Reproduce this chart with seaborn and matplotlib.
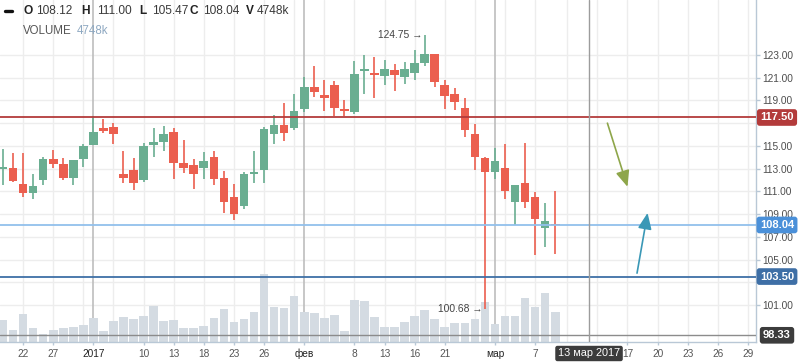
import matplotlib
matplotlib.use('Agg')
import matplotlib.pyplot as plt
import matplotlib.transforms as mtransforms
from matplotlib.lines import Line2D
import numpy as np
import pandas as pd
import seaborn as sns

# ---------------- data ----------------
dates = ['20.12', '21.12', '22.12', '23.12', '26.12', '27.12', '28.12', '29.12', '30.12',
         '03.01', '04.01', '05.01', '06.01', '09.01', '10.01', '11.01', '12.01', '13.01',
         '16.01', '17.01', '18.01', '19.01', '20.01', '23.01', '24.01', '25.01', '26.01',
         '27.01', '30.01', '31.01', '01.02', '02.02', '03.02', '06.02', '07.02', '08.02',
         '09.02', '10.02', '13.02', '14.02', '15.02', '16.02', '17.02', '20.02', '21.02',
         '22.02', '24.02', '27.02', '28.02', '01.03', '02.03', '03.03', '06.03', '07.03',
         '09.03', '10.03']
opens = [113.00, 113.05, 111.64, 110.88, 112.00, 113.85, 113.40, 112.17, 113.85, 115.10,
         116.57, 116.66, 112.52, 112.88, 112.00, 115.10, 115.34, 116.22, 113.49, 113.32,
         113.05, 114.02, 112.17, 110.50, 109.71, 112.52, 112.88, 116.05, 116.84, 116.57,
         118.25, 120.18, 119.48, 120.36, 118.25, 117.98, 121.59, 121.42, 121.15, 121.68,
         121.06, 121.42, 122.30, 123.09, 120.36, 119.57, 118.33, 116.05, 113.93, 112.70,
         113.05, 110.06, 111.73, 110.50, 107.77, 108.12]
highs = [114.73, 114.40, 114.40, 112.52, 114.02, 114.64, 113.93, 113.80, 115.17, 117.63,
         117.37, 117.00, 114.55, 113.93, 115.25, 116.57, 116.75, 116.57, 115.52, 113.85,
         114.46, 114.55, 112.79, 111.64, 112.70, 114.55, 116.66, 117.72, 118.77, 119.57,
         121.06, 122.03, 120.80, 120.71, 119.04, 122.47, 123.00, 122.82, 122.56, 122.21,
         122.38, 123.44, 124.75, 123.09, 120.80, 120.10, 119.21, 116.93, 114.02, 114.81,
         115.17, 111.56, 115.25, 110.94, 109.97, 111.00]
lows = [111.56, 111.80, 110.53, 110.35, 111.58, 113.08, 112.02, 111.58, 113.14, 115.10,
        116.13, 115.17, 111.76, 111.14, 111.85, 114.05, 114.55, 112.08, 112.61, 111.20,
        112.08, 111.56, 109.09, 108.48, 109.44, 111.73, 111.73, 115.17, 115.43, 116.40,
        117.98, 119.30, 118.07, 117.63, 117.63, 117.80, 119.57, 119.21, 120.36, 119.83,
        120.45, 120.80, 122.03, 120.18, 118.25, 118.16, 115.78, 112.88, 100.68, 112.08,
        110.32, 108.04, 109.53, 105.39, 106.10, 105.47]
closes = [113.17, 111.93, 110.88, 111.47, 113.85, 113.43, 112.17, 113.76, 114.99, 116.22,
          116.31, 116.05, 112.20, 111.76, 114.99, 115.34, 116.05, 113.49, 113.05, 112.52,
          113.67, 112.08, 110.06, 109.00, 112.52, 112.70, 116.49, 116.84, 116.13, 118.07,
          120.18, 119.74, 119.21, 118.33, 118.07, 121.33, 121.77, 121.24, 121.77, 121.24,
          121.77, 122.30, 123.09, 120.62, 119.39, 118.86, 116.40, 114.02, 112.70, 113.67,
          111.03, 111.56, 110.06, 108.56, 108.39, 108.04]
volumes_k = [3483, 1900, 4432, 2216, 1266, 1900, 2216, 2375, 2691, 3799,
             1741, 3324, 3958, 3641, 4116, 5699, 3324, 3483, 2216, 2216,
             2533, 3799, 5224, 3166, 3641, 4749, 10764, 5541, 5382, 7282,
             4749, 4591, 3799, 4274, 1741, 6649, 6490, 3958, 2375, 2375,
             3166, 4116, 5066, 3641, 2375, 3008, 3008, 3641, 6332, 2849,
             4116, 4116, 6965, 5541, 7757, 4748]

xtick_pos = [2, 5, 9, 14, 17, 20, 23, 26, 30, 35, 38, 41, 44, 49, 53, 62.2, 65.2, 68.2, 71.2, 74.2]
xtick_labels = ['22', '27', '2017', '10', '13', '18', '23', '26', 'фев', '8', '13', '16', '21',
                'мар', '7', '17', '20', '23', '26', '29']
strong_labels = ['2017', 'фев', 'мар']
month_sep = [9, 30, 49]
grid_x = [2, 5, 8, 11, 14, 17, 20, 23, 26, 29, 32, 35, 38, 41, 44, 47, 50, 53,
          56.2, 59.2, 62.2, 65.2, 68.2, 71.2, 74.2]
grid_y = [101, 103, 105, 107, 109, 111, 113, 115, 117, 119, 121, 123]
ytick_vals = [101, 105, 107, 109, 111, 113, 115, 119, 121, 123]

level_prices = [117.50, 108.04, 103.50]
level_line_colors = ['#b33b3b', '#92c0ec', '#3e6fa6']
level_box_colors = ['#b33b3b', '#4a90d9', '#3e6fa6']
crosshair_idx = 58.37
crosshair_price = 98.33
crosshair_label = '13 мар 2017'

arrow_tails = [(60.2, 117.0), (63.15, 103.8)]
arrow_heads = [(62.2, 111.4), (64.2, 109.1)]
arrow_colors = ['#8ea64a', '#3a98b6']

# ---------------- style ----------------
sns.set_theme(style='white')
plt.rcParams['font.family'] = ['Liberation Sans', 'DejaVu Sans']

W, H = 798, 363
fig = plt.figure(figsize=(W / 100, H / 100), dpi=100, facecolor='white')
rect = [0, 21 / H, 756 / W, 342 / H]
ax = fig.add_axes(rect)
axv = ax.twinx()
ax.set_zorder(2)
axv.set_zorder(1)
ax.patch.set_visible(False)
axv.patch.set_visible(True)
axv.patch.set_facecolor('white')

x = np.arange(len(opens))
o = np.array(opens); c = np.array(closes); h = np.array(highs); l = np.array(lows)
UP, DOWN = '#6aae91', '#eb5f4f'
cols = [UP if cc > oo else DOWN for oo, cc in zip(o, c)]

# volume (seaborn)
df = pd.DataFrame({'idx': x, 'vol': volumes_k})
sns.barplot(data=df, x='idx', y='vol', native_scale=True, color='#d4dbe2', saturation=1,
            width=0.86, errorbar=None, linewidth=0, ax=axv, zorder=1)
axv.set_ylim(0, 54128)
axv.set_xlabel(''); axv.set_ylabel('')
axv.yaxis.set_visible(False)
for s in axv.spines.values():
    s.set_visible(False)

# grid on the background axes
blend = mtransforms.blended_transform_factory(axv.transAxes, ax.transData)
for yv in grid_y:
    axv.plot([0, 1], [yv, yv], transform=blend, color='#ededed', lw=1, zorder=0)
for gx in grid_x:
    axv.axvline(gx, color='#ededed', lw=1, zorder=0)
for mx in month_sep:
    axv.axvline(mx, color='#bdbdbd', lw=1.2, zorder=0.5)

# candles
ax.vlines(x, l, h, colors=cols, lw=1.2, zorder=3)
minh = 0.14
bh = np.abs(c - o)
bb = np.minimum(o, c) - np.where(bh < minh, (minh - bh) / 2, 0)
bh = np.maximum(bh, minh)
ax.bar(x, bh, bottom=bb, width=0.86, color=cols, linewidth=0, zorder=3.5)

# level lines
for p, lc in zip(level_prices, level_line_colors):
    ax.axhline(p, color=lc, lw=1.3, zorder=4)
ax.axhline(crosshair_price, color='#8c8c8c', lw=1, zorder=4)
ax.axvline(crosshair_idx, color='#9c9c9c', lw=1, zorder=4)

ax.set_xlim(-0.3, 75.0)
axv.set_xlim(-0.3, 75.0)
ax.set_ylim(97.74, 127.84)

# axes styling
for side in ['top', 'left']:
    ax.spines[side].set_visible(False)
for side in ['right', 'bottom']:
    ax.spines[side].set_visible(True)
    ax.spines[side].set_color('#b9c8d6')
    ax.spines[side].set_linewidth(1)
ax.yaxis.tick_right()
ax.set_yticks(ytick_vals, [f'{v:.2f}' for v in ytick_vals])
ax.tick_params(axis='y', length=3, width=1, color='#b9c8d6', labelsize=7.3,
               labelcolor='#4d4d4d', pad=1.5, left=False, right=True)
ax.set_xticks(xtick_pos, xtick_labels)
ax.tick_params(axis='x', length=2.2, width=1, color='#b9c8d6', labelsize=7.3,
               labelcolor='#555555', pad=2.5, bottom=True)
for t in ax.get_xticklabels():
    if t.get_text() in strong_labels:
        t.set_color('#222222')
ax.set_xlabel(''); ax.set_ylabel('')
ax.grid(False); axv.grid(False)

# price boxes
ybl = mtransforms.blended_transform_factory(ax.transAxes, ax.transData)
for p, bc in zip(level_prices + [crosshair_price], level_box_colors + ['#3c3c3c']):
    ax.text(777 / 756, p, f'{p:.2f}', transform=ybl, ha='center', va='center', color='white',
            fontsize=8, fontweight='bold', zorder=10, clip_on=False,
            bbox=dict(boxstyle='round,pad=0.3,rounding_size=0.25', fc=bc, ec='none'))

# date box
xbl = mtransforms.blended_transform_factory(ax.transData, ax.transAxes)
ax.text(crosshair_idx, -11.5 / 342, crosshair_label, transform=xbl, ha='center', va='center',
        color='white', fontsize=7.8, zorder=10, clip_on=False,
        bbox=dict(boxstyle='round,pad=0.25,rounding_size=0.2', fc='#3c3c3c', ec='none'))

# high / low annotations
imax = int(np.argmax(h)); imin = int(np.argmin(l))
ax.text(imax - 0.2, h[imax], f'{h[imax]:.2f} →', ha='right', va='center', fontsize=7.4,
        color='#444444', zorder=6)
ax.text(imin - 0.2, l[imin], f'{l[imin]:.2f} →', ha='right', va='center', fontsize=7.4,
        color='#444444', zorder=6)

# drawn arrows
for (tx, ty), (hx, hy), ac in zip(arrow_tails, arrow_heads, arrow_colors):
    ax.annotate('', xy=(hx, hy), xytext=(tx, ty),
                arrowprops=dict(arrowstyle='-|>,head_length=0.75,head_width=0.32', color=ac,
                                lw=1.2, mutation_scale=13, shrinkA=0, shrinkB=0), zorder=6)

# legend header
def ftext(xp, yp, s, **kw):
    fig.text(xp / W, 1 - yp / H, s, va='center', ha='left', **kw)

fig.add_artist(Line2D([5 / W, 12 / W], [1 - 11 / H, 1 - 11 / H], lw=2.4, color='#111111',
                      transform=fig.transFigure))
hdr = [('O', 23, f'{opens[-1]:.2f}', 36), ('H', 81, f'{highs[-1]:.2f}', 97),
       ('L', 139, f'{lows[-1]:.2f}', 152), ('C', 190, f'{closes[-1]:.2f}', 203),
       ('V', 246, f'{volumes_k[-1]}k', 257)]
for lab, lx, val, vx in hdr:
    ftext(lx, 11, lab, fontsize=8.6, fontweight='bold', color='#222222')
    ftext(vx, 11, val, fontsize=8.6, color='#3a3a3a')
ftext(23, 31, 'VOLUME', fontsize=8.3, color='#555555')
ftext(77, 31, f'{volumes_k[-1]}k', fontsize=8.3, color='#8fa9c2')

fig.savefig('out.png', dpi=100, facecolor='white')
